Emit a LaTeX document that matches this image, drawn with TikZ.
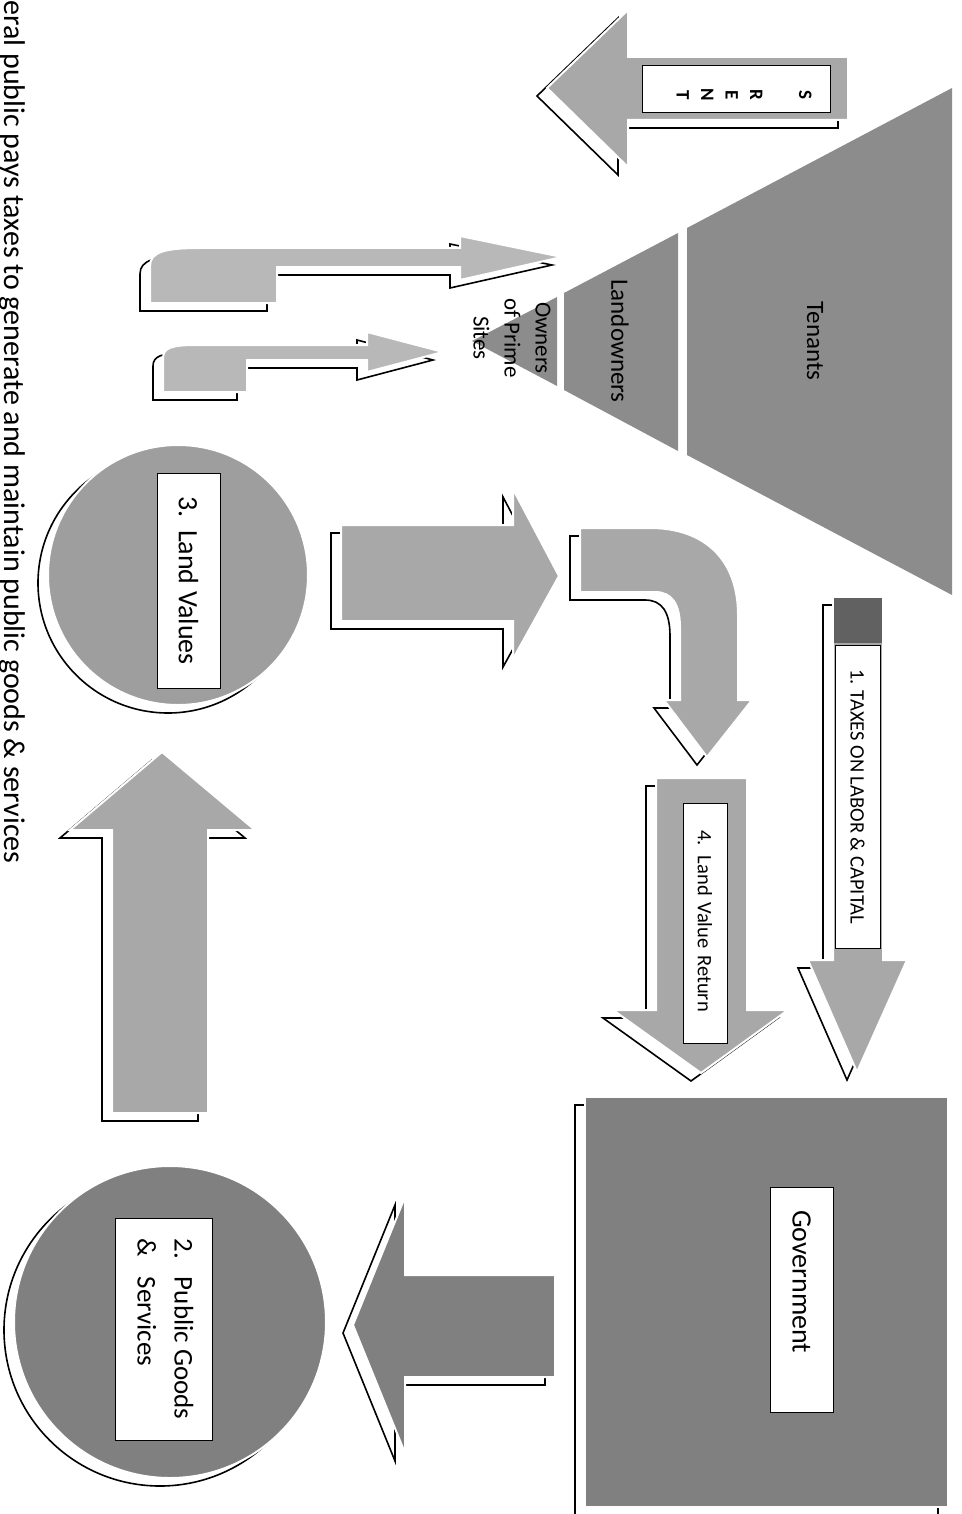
\documentclass[tikz,border=0pt]{standalone}
\usepackage{fontspec}
\setmainfont{Carlito}
\usepackage{tikz}
\definecolor{arrowgray}{gray}{0.66}
\definecolor{bentgray}{gray}{0.72}
\definecolor{govgray}{gray}{0.50}
\definecolor{pyrgray}{gray}{0.55}
\definecolor{valgray}{gray}{0.62}
\definecolor{patchgray}{gray}{0.38}
\newcommand\lblbig{\fontsize{28}{34}\selectfont}
\newcommand\lblsmall{\fontsize{20.5}{24}\selectfont}
\newcommand\pyrfont{\fontsize{25}{30}\selectfont}
\newcommand\capfont{\fontsize{30}{34}\selectfont}
\tikzset{
  backshadow/.style={preaction={draw=black,line width=1.6pt,
      transform canvas={xshift=-10pt,yshift=-8pt}}},
  blockarrow/.style={fill=#1,draw=white,line width=2pt,backshadow},
  blockarrow/.default=arrowgray,
  labelbox/.style={draw=black,line width=0.8pt,fill=white,rotate=-90,
      inner sep=0pt,align=center},
  pyr/.style={fill=pyrgray}
}

\begin{document}
\begin{tikzpicture}[x=1pt,y=-1pt]
\useasboundingbox (0,0) rectangle (961,1514);

\node at (5,-3) (Cap) [rotate=-90,anchor=base west,font=\capfont]
  {eral public pays taxes to generate and maintain public goods \& services};

% pyramid
\fill[pyr] (687,228) -- (952,88) -- (952,595) -- (687,455) -- cycle;
\fill[pyr] (564,293) -- (678,233) -- (678,451) -- (564,390) -- cycle;
\fill[pyr] (472,341) -- (557,297) -- (557,386) -- cycle;
\node at (815,341) (Ten) [rotate=-90,font=\pyrfont] {Tenants};
\node at (620,341) (Land) [rotate=-90,font=\pyrfont] {Landowners};
\node at (512,338) (Own) [rotate=-90,align=center,
  font=\fontsize{23}{31}\selectfont] {Owners\\of Prime\\Sites};

% rent
\draw[blockarrow] (848,57) -- (628,57) -- (628,10) -- (547,88)
  -- (628,167) -- (628,120) -- (848,120) -- cycle;
\node at (736,88.5) (Rent) [labelbox,minimum width=47pt,minimum height=188pt] {};
\node at (744,95) (RentText) [rotate=-90,align=center,
  font=\fontsize{19}{24.5}\selectfont\bfseries] {S\\ \\R\\E\\N\\T};

% bent arrows into the pyramid
\draw[blockarrow=bentgray] (150,303) -- (150,266)
  .. controls (150,252) and (165,248) .. (200,248) -- (460,248)
  -- (460,236) -- (562,257) -- (460,280) -- (460,267)
  -- (277,267) -- (277,303) -- cycle;
\draw[blockarrow=bentgray] (163,392) -- (163,358)
  .. controls (163,348) and (172,345) .. (195,345) -- (367,345)
  -- (367,332) -- (443,352) -- (367,372) -- (367,360)
  -- (247,360) -- (247,392) -- cycle;

% government
\node at (766.5,1302) (Gov) [rectangle,minimum width=363pt,minimum height=410pt,
  blockarrow=govgray] {};
\node at (801.5,1299.5) (GovText) [labelbox,minimum height=63pt,
  inner xsep=23pt,text width=179pt,align=left,font=\lblbig] {Government};

% 1. taxes
\draw[blockarrow] (833,597) -- (883,597) -- (883,960) -- (907,960)
  -- (857,1072) -- (808,960) -- (833,960) -- cycle;
\fill[patchgray] (834,598) rectangle (882,643);
\node at (857.5,796.5) (Tax) [labelbox,minimum width=303pt,minimum height=45pt,
  font=\lblsmall] {1. TAXES ON LABOR \& CAPITAL};

% 2. public goods
\draw[blockarrow=govgray] (555,1275) -- (405,1275) -- (405,1197) -- (353,1325)
  -- (405,1453) -- (405,1377) -- (555,1377) -- cycle;
\node at (170,1322) (PG) [circle,minimum size=312pt,blockarrow=govgray] {};
\node at (163.5,1329) (PGText) [labelbox,minimum width=222pt,minimum height=97pt,
  font=\fontsize{27}{37}\selectfont]
  {\begin{tabular}{@{}l@{\hspace{18pt}}l@{}}2. & Public Goods\\ \& & Services\end{tabular}};

% 3. land values
\draw[blockarrow] (112,1113) -- (112,830) -- (70,830) -- (162,752)
  -- (255,830) -- (208,830) -- (208,1113) -- cycle;
\node at (178,575) (LV) [circle,minimum size=260pt,blockarrow=valgray] {};
\node at (188.5,580.5) (LVText) [labelbox,minimum width=215pt,minimum height=63pt,
  font=\lblbig] {3.\ \ Land Values};
\draw[blockarrow] (341,525) -- (513,525) -- (513,489) -- (559,576)
  -- (513,659) -- (513,621) -- (341,621) -- cycle;

% 4. land value return
\draw[blockarrow] (580,528) -- (650,528)
  .. controls (705,528) and (738,560) .. (738,615) -- (738,700)
  -- (752,700) -- (707,757) -- (664,700) -- (680,700) -- (680,628)
  .. controls (680,604) and (672,592) .. (655,592) -- (580,592) -- cycle;
\draw[blockarrow] (656,778) -- (747,778) -- (747,1010) -- (788,1010)
  -- (701,1073) -- (613,1010) -- (656,1010) -- cycle;
\node at (705,923) (LVR) [labelbox,minimum height=44pt,
  inner xsep=27pt,text width=186pt,align=left,font=\lblsmall] {4. Land Value Return};
\end{tikzpicture}
\end{document}
